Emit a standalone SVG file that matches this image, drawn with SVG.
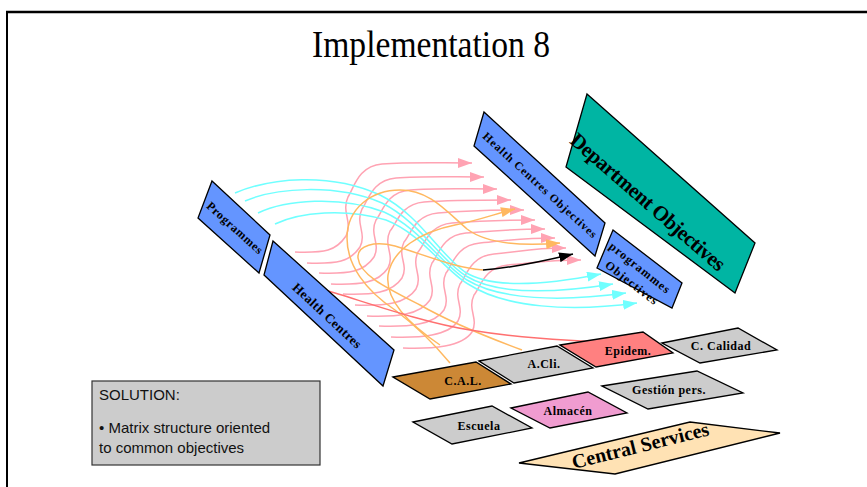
<svg xmlns="http://www.w3.org/2000/svg" width="867" height="487" viewBox="0 0 867 487">
  <defs>
    <style>
      .box { stroke: #000; stroke-width: 1.3; stroke-linejoin: miter; }
      .blue { fill: #6495FF; }
      .teal { fill: #00B5A3; }
      .grey { fill: #CCCCCC; }
      .lbl { font-family: "Liberation Serif", "Times New Roman", serif; font-weight: bold; fill: #000; text-anchor: middle; }
      .pink { fill: none; stroke: #FFA3B3; stroke-width: 1.5; }
      .cyan { fill: none; stroke: #70FFFF; stroke-width: 1.5; }
      .orange { fill: none; stroke: #FFB860; stroke-width: 1.5; }
      .red { fill: none; stroke: #FF7070; stroke-width: 1.4; }
      .black { fill: none; stroke: #000; stroke-width: 1.5; }
      .sol { font-family: "Liberation Sans", Arial, sans-serif; font-size: 15px; fill: #111; }
    </style>
    <marker id="ah-pink" viewBox="0 0 14 10" refX="14" refY="5" markerWidth="14" markerHeight="10" orient="auto" markerUnits="userSpaceOnUse">
      <path d="M0,0 L14,5 L0,10 z" fill="#FFA3B3"/>
    </marker>
    <marker id="ah-cyan" viewBox="0 0 14 10" refX="14" refY="5" markerWidth="14" markerHeight="10" orient="auto" markerUnits="userSpaceOnUse">
      <path d="M0,0 L14,5 L0,10 z" fill="#70FFFF"/>
    </marker>
    <marker id="ah-orange" viewBox="0 0 14 10" refX="14" refY="5" markerWidth="14" markerHeight="10" orient="auto" markerUnits="userSpaceOnUse">
      <path d="M0,0 L14,5 L0,10 z" fill="#FFB860"/>
    </marker>
    <marker id="ah-black" viewBox="0 0 14 10" refX="14" refY="5" markerWidth="14" markerHeight="10" orient="auto" markerUnits="userSpaceOnUse">
      <path d="M0,0 L14,5 L0,10 z" fill="#000"/>
    </marker>
  </defs>

  <rect width="867" height="487" fill="#fff"/>

  <!-- slide frame -->
  <g id="frame" stroke="#000" fill="none">
    <line x1="6" y1="12" x2="867" y2="12" stroke-width="2.5"/>
    <line x1="7" y1="11" x2="7" y2="487" stroke-width="2"/>
  </g>

  <text id="title" x="312" y="57" font-family="'Liberation Serif', 'Times New Roman', serif" font-size="37" textLength="238" lengthAdjust="spacingAndGlyphs" fill="#000">Implementation 8</text>

  <!-- flows between the matrix axes -->
  <g id="connectors">
    <!-- pink: health centres to their objectives -->
    <g class="pink-flows" marker-end="url(#ah-pink)">
      <path class="pink" d="M295,252 C325,253 336,251 346,236 C353,222 341,212 348,197 C354,188 358,166 382,164 C410,162 436,163 472,163"/>
      <path class="pink" d="M307,263 C337,264 350,262 360,247 C367,233 355,224 362,209 C368,201 372,180 396,178 C422,176 448,177 484,177"/>
      <path class="pink" d="M319,273 C349,274 364,272 374,257 C381,243 369,235 376,220 C382,213 386,192 410,190 C435,188 461,189 497,189"/>
      <path class="pink" d="M331,284 C361,285 378,283 388,268 C395,254 383,246 390,231 C396,225 400,204 424,202 C449,200 475,200 511,200"/>
      <path class="pink" d="M343,294 C373,295 392,293 402,278 C409,264 397,257 404,242 C410,236 414,215 438,213 C463,211 488,210 524,210"/>
      <path class="pink" d="M355,305 C385,306 406,304 416,289 C423,275 411,267 418,252 C424,246 428,225 452,223 C477,221 499,220 535,220"/>
      <path class="pink" d="M367,316 C397,317 420,315 430,300 C437,286 425,278 432,263 C438,256 442,235 466,233 C491,231 509,229 545,229"/>
      <path class="pink" d="M379,326 C409,327 434,325 444,310 C451,296 439,288 446,273 C452,266 456,245 480,243 C505,241 519,238 555,238"/>
      <path class="pink" d="M391,337 C421,338 448,336 458,321 C465,307 453,299 460,284 C466,277 470,256 494,254 C519,252 530,248 566,248"/>
      <path class="pink" d="M403,348 C433,349 462,347 472,332 C479,318 467,310 474,295 C480,288 484,267 508,265 C533,263 545,260 581,260"/>
    </g>
    <!-- cyan: programmes to their objectives -->
    <g class="cyan-flows" marker-end="url(#ah-cyan)">
      <path class="cyan" d="M235,193 C270,178 330,172 380,195 C420,215 440,255 465,272 C490,288 540,286 601,274"/>
      <path class="cyan" d="M245,201 C275,188 335,183 382,203 C420,222 440,260 466,276 C495,294 550,294 613,284"/>
      <path class="cyan" d="M258,213 C285,200 340,195 384,212 C420,228 442,265 467,280 C500,300 560,302 626,293"/>
      <path class="cyan" d="M275,224 C300,212 345,208 386,220 C422,234 444,270 468,284 C505,308 570,312 637,303"/>
    </g>
    <!-- orange: central services towards the objectives -->
    <path class="orange" marker-end="url(#ah-orange)" d="M450,363 C435,345 415,325 395,310 C365,290 347,265 347,238 C347,208 372,190 400,190 C430,190 447,212 467,229 C487,244 525,246 560,243"/>
    <path class="orange" marker-end="url(#ah-orange)" d="M440,345 C410,325 385,300 388,275 C392,250 420,232 455,225 C480,220 498,213 515,209"/>
    <path class="orange" d="M522,350 C495,340 455,325 420,305 C385,287 360,275 358,258 C357,245 375,241 395,246 C425,255 455,268 483,270"/>
    <path class="black" marker-end="url(#ah-black)" d="M483,270 C510,268 540,262 573,254"/>
    <!-- red: health centres to epidemiology -->
    <path class="red" d="M325,290 C360,300 420,322 470,330 C530,340 590,342 640,343"/>
  </g>

  <g id="programmes">
    <polygon class="box blue" points="212,181 270,235 259,273 198,218"/>
    <text class="lbl" font-size="12" letter-spacing="0.6" transform="translate(235,228) rotate(42)" y="4">Programmes</text>
  </g>

  <g id="health-centres">
    <polygon class="box blue" points="273,241 394,350 383,386 264,275"/>
    <text class="lbl" font-size="13" letter-spacing="0.4" transform="translate(327,316) rotate(43)" y="4">Health Centres</text>
  </g>

  <g id="health-centres-objectives">
    <polygon class="box blue" points="484,112 605,223 595,256 474,146"/>
    <text class="lbl" font-size="11.5" textLength="150" transform="translate(540,185) rotate(42.5)" y="4">Health Centres Objectives</text>
  </g>

  <g id="department-objectives">
    <polygon class="box teal" points="587,94 755,243 735,293 566,167"/>
    <text class="lbl" font-size="21" textLength="198" transform="translate(648,202) rotate(41)" y="7">Department Objectives</text>
  </g>

  <g id="programmes-objectives">
    <polygon class="box blue" points="613,230 682,283 672,308 597,268"/>
    <text class="lbl" font-size="12" letter-spacing="1" transform="translate(640,268) rotate(38.5)" y="4">programmes</text>
    <text class="lbl" font-size="12" letter-spacing="1" transform="translate(632,283) rotate(38)" y="4">Objectives</text>
  </g>

  <g id="cal">
    <polygon class="box" fill="#CC8836" points="393,377 476,362 511,384 430,399"/>
    <text class="lbl" font-size="12" letter-spacing="0.5" x="463" y="385">C.A.L.</text>
  </g>

  <g id="acli">
    <polygon class="box grey" points="479,361 557,346 593,368 514,383"/>
    <text class="lbl" font-size="12" letter-spacing="0.5" x="544" y="368">A.Cli.</text>
  </g>

  <g id="epidem">
    <polygon class="box" fill="#FF8080" points="560,345 643,332 673,353 596,367"/>
    <text class="lbl" font-size="12" letter-spacing="0.5" x="628" y="355">Epidem.</text>
  </g>

  <g id="c-calidad">
    <polygon class="box grey" points="662,343 738,328 777,350 700,363"/>
    <text class="lbl" font-size="12" letter-spacing="0.5" x="721" y="350">C. Calidad</text>
  </g>

  <g id="gestion-pers">
    <polygon class="box grey" points="602,386 697,371 743,393 648,409"/>
    <text class="lbl" font-size="12" letter-spacing="0.5" x="669" y="394">Gestión pers.</text>
  </g>

  <g id="almacen">
    <polygon class="box" fill="#F09CD0" points="511,408 588,392 627,413 550,428"/>
    <text class="lbl" font-size="12" letter-spacing="0.5" x="568" y="415">Almacén</text>
  </g>

  <g id="escuela">
    <polygon class="box grey" points="413,422 492,406 532,428 452,444"/>
    <text class="lbl" font-size="12" letter-spacing="0.5" x="479" y="430">Escuela</text>
  </g>

  <g id="central-services">
    <polygon class="box" fill="#FFE2B4" points="519,463 690,422 780,433 615,474"/>
    <text class="lbl" font-size="20" transform="translate(642,452) rotate(-14)">Central Services</text>
  </g>

  <g id="solution">
    <rect x="92" y="381" width="228" height="84" fill="#CCCCCC" stroke="#333" stroke-width="1.2"/>
    <text class="sol" x="99" y="400">SOLUTION:</text>
    <text class="sol" x="99" y="433">• Matrix structure oriented</text>
    <text class="sol" x="99" y="453">to common objectives</text>
  </g>
</svg>
